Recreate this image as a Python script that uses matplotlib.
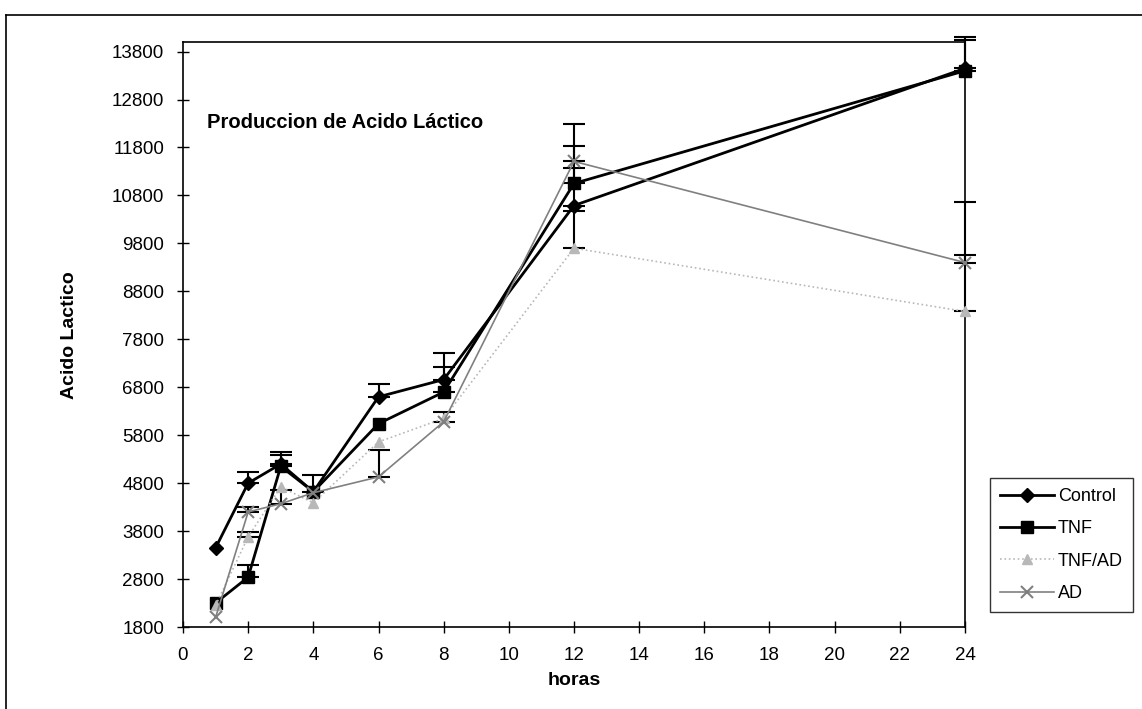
import numpy as np
import matplotlib
matplotlib.use("Agg")
from matplotlib import pyplot as plt
from matplotlib.lines import Line2D

plt.rcParams['font.family'] = ['Liberation Sans', 'DejaVu Sans']

# data
horas = [1, 2, 3, 4, 6, 8, 12, 24]
control = [3450, 4800, 5200, 4620, 6600, 6960, 10590, 13450]
tnf = [2300, 2840, 5150, 4620, 6040, 6700, 11050, 13400]
tnf_ad = [2250, 3680, 4720, 4390, 5660, 6150, 9700, 8380]
ad = [2000, 4200, 4370, 4600, 4930, 6080, 11510, 9400]

# upper error bars only (0 = no bar drawn)
err_control = [0, 230, 250, 350, 270, 560, 790, 650]
err_tnf = [0, 250, 230, 0, 0, 530, 790, 650]
err_tnf_ad = [0, 100, 0, 0, 0, 0, 780, 1170]
err_ad = [0, 100, 290, 0, 570, 200, 790, 1270]

yticks = np.arange(1800, 13801, 1000)
xticks = np.arange(0, 25, 2)

W, H = 1142, 709
fig = plt.figure(figsize=(W / 100, H / 100), dpi=100)
ax = fig.add_axes([183 / W, 1 - 627 / H, (965 - 183) / W, (627 - 42) / H])

series = [
    ("Control", control, err_control, dict(color='black', lw=2, marker='D', ms=7, ls='-')),
    ("TNF", tnf, err_tnf, dict(color='black', lw=2, marker='s', ms=8, ls='-')),
    ("TNF/AD", tnf_ad, err_tnf_ad, dict(color='#b8b8b8', lw=1.2, marker='^', ms=7, ls=':')),
    ("AD", ad, err_ad, dict(color='#808080', lw=1.2, marker='x', ms=8, mew=1.5, ls='-')),
]

for name, vals, err, st in series:
    x = np.array(horas)
    v = np.array(vals)
    e = np.array(err)
    keep = e > 0
    ax.errorbar(x[keep], v[keep], yerr=[np.zeros(keep.sum()), e[keep]], fmt='none',
                ecolor='black', elinewidth=1.5, capsize=8, capthick=1.5,
                clip_on=False, zorder=2)
    ax.plot(horas, vals, label=name, clip_on=False, zorder=3, **st)

ax.set_xlim(0, 24)
ax.set_ylim(1800, 14000)
ax.set_xticks(xticks)
ax.set_yticks(yticks)
ax.tick_params(direction='inout', length=9, width=1, labelsize=13.5)
ax.tick_params(axis='y', pad=9)
ax.tick_params(axis='x', pad=10)
for s in ax.spines.values():
    s.set_linewidth(1.2)

ax.set_xlabel("horas", fontsize=14, fontweight='bold', labelpad=6)
fig.text(70 / W, 1 - 335 / H, "Acido Lactico", rotation=90, fontsize=14,
         fontweight='bold', ha='center', va='center')
fig.text(207 / W, 1 - 123 / H, "Produccion de Acido Láctico", fontsize=14.5,
         fontweight='bold', ha='left', va='center')

leg = fig.legend(loc='upper left', bbox_to_anchor=(990 / W, 1 - 478 / H),
                 fontsize=13, frameon=True, fancybox=False, edgecolor='black',
                 handlelength=3.0, labelspacing=0.85, borderpad=0.55,
                 handletextpad=0.2, borderaxespad=0)
leg.get_frame().set_linewidth(1)

# outer chart frame (cut at right and bottom)
fig.add_artist(Line2D([6 / W, 1], [1 - 15 / H, 1 - 15 / H], color='black', lw=1.2))
fig.add_artist(Line2D([6 / W, 6 / W], [0, 1 - 15 / H], color='black', lw=1.2))

fig.savefig("out.png", dpi=100)
